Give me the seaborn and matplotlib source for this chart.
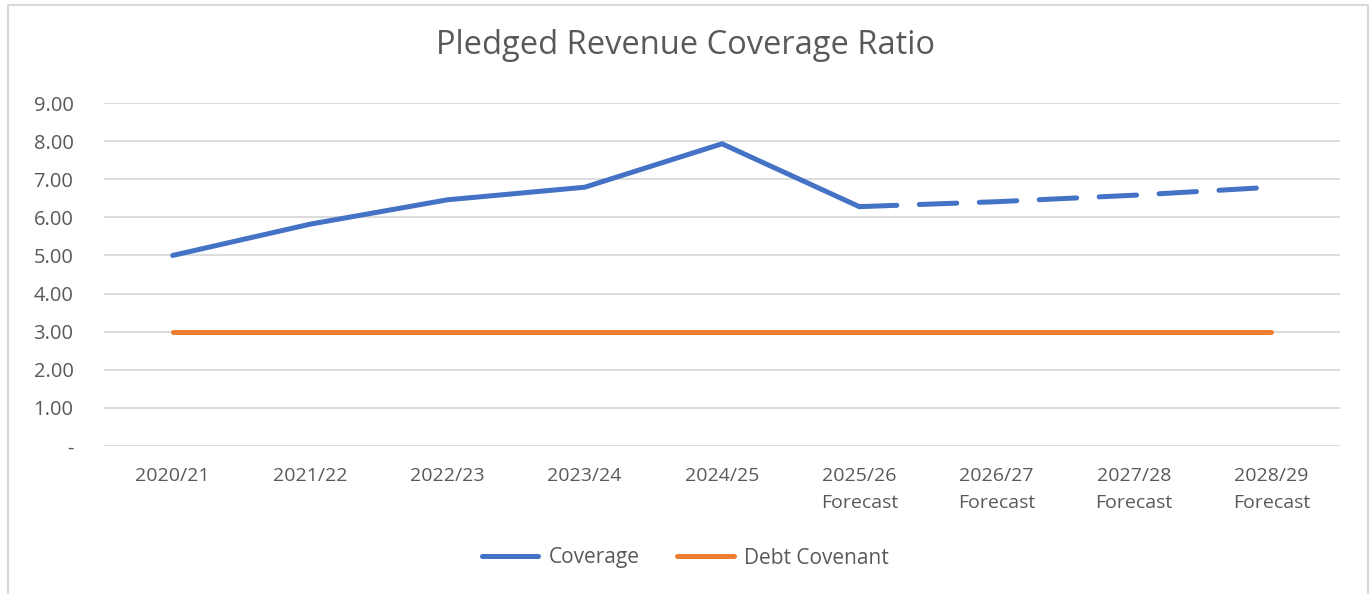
import matplotlib

matplotlib.use("Agg")

import matplotlib.pyplot as plt
import pandas as pd
import seaborn as sns
from matplotlib.lines import Line2D

periods = [
    "2020/21", "2021/22", "2022/23", "2023/24", "2024/25",
    "2025/26\nForecast", "2026/27\nForecast", "2027/28\nForecast", "2028/29\nForecast",
]
coverage = [5.00, 5.82, 6.46, 6.79, 7.93, 6.28, 6.41, 6.58, 6.79]
covenant = [3.00] * 9
n_actual = 5  # first five are actuals, the rest forecast
y_ticks = [0, 1, 2, 3, 4, 5, 6, 7, 8, 9]
y_tick_labels = ["-"] + [f"{v:.2f}" for v in y_ticks[1:]]

BLUE = "#4472C4"
ORANGE = "#ED7D31"
GREY_TXT = "#595959"

sns.set_style("white")
plt.rcParams["font.family"] = ["Open Sans", "DejaVu Sans"]

df = pd.DataFrame({"pos": range(len(periods)), "coverage": coverage, "covenant": covenant})
actual = df.iloc[: n_actual + 1]
forecast = df.iloc[n_actual:]

fig = plt.figure(figsize=(13.71, 5.94), dpi=100)
ax = fig.add_axes([104 / 1371, 1 - 446 / 594, (1340 - 104) / 1371, (446 - 103) / 594])

sns.lineplot(data=df, x="pos", y="covenant", color=ORANGE, linewidth=3.6, ax=ax,
             solid_capstyle="round")
sns.lineplot(data=actual, x="pos", y="coverage", color=BLUE, linewidth=3.6, ax=ax,
             solid_capstyle="round", solid_joinstyle="miter")
sns.lineplot(data=forecast, x="pos", y="coverage", color=BLUE, linewidth=3.6, ax=ax,
             dashes=[(7.5, 4.5)], style=[0] * len(forecast), legend=False)
for ln in ax.get_lines()[2:]:
    ln.set_dash_capstyle("round")

ax.set_xlim(-0.5, len(periods) - 0.5)
ax.set_ylim(0, 9)
ax.set_yticks(y_ticks)
ax.set_yticklabels(y_tick_labels)
ax.set_xticks(range(len(periods)))
ax.set_xticklabels(periods, linespacing=1.65)
ax.tick_params(axis="both", length=0, labelcolor=GREY_TXT)
ax.tick_params(axis="x", labelsize=14, pad=15)
ax.tick_params(axis="y", labelsize=14.5, pad=22)
for lab in ax.get_yticklabels():
    lab.set_horizontalalignment("right")
ax.grid(axis="y", color="#D9D9D9", linewidth=1.3)
ax.set_axisbelow(True)
for s in ax.spines.values():
    s.set_visible(False)
ax.set_xlabel("")
ax.set_ylabel("")

fig.text(0.5, 1 - 46 / 594, "Pledged Revenue Coverage Ratio", ha="center", va="center",
         fontsize=23.5, color=GREY_TXT)

handles = [
    Line2D([0], [0], color=BLUE, linewidth=3.6, solid_capstyle="round"),
    Line2D([0], [0], color=ORANGE, linewidth=3.6, solid_capstyle="round"),
]
leg = fig.legend(handles, ["Coverage", "Debt Covenant"], loc="center",
                 bbox_to_anchor=(0.5, 1 - 558 / 594), ncol=2, frameon=False,
                 fontsize=15, handlelength=2.7, columnspacing=1.8, handletextpad=0.5)
for t in leg.get_texts():
    t.set_color(GREY_TXT)

# light chart-area border (open at the bottom)
border = dict(color="#D9D9D9", linewidth=1.5, transform=fig.transFigure)
fig.add_artist(Line2D([8 / 1371, 1368 / 1371], [1 - 5 / 594] * 2, **border))
fig.add_artist(Line2D([8 / 1371] * 2, [0, 1 - 5 / 594], **border))
fig.add_artist(Line2D([1368 / 1371] * 2, [0, 1 - 5 / 594], **border))

fig.savefig("out.png", dpi=100)
